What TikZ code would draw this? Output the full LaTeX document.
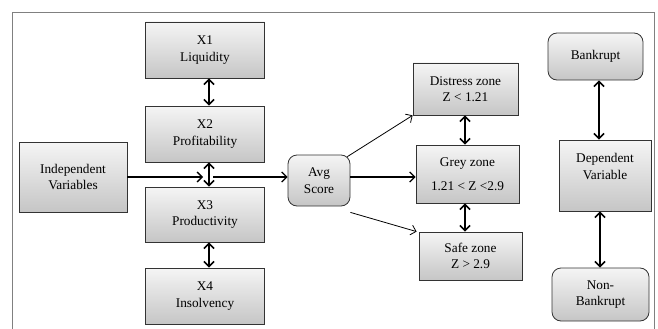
\documentclass[tikz,border=0pt]{standalone}
\usepackage{fontspec}
\setmainfont{Liberation Serif}
\usetikzlibrary{arrows.meta}
\begin{document}
\begin{tikzpicture}[x=1pt,y=-1pt,
  box/.style={draw=black!80, line width=0.8pt, top color=gray!8, bottom color=gray!45,
    align=center, inner sep=0pt, font=\fontsize{13.3}{16.5}\selectfont},
  rbox/.style={box, rounded corners=9pt},
  dbl/.style={line width=1.6pt, {Straight Barb[length=5pt,width=10pt]}-{Straight Barb[length=5pt,width=10pt]}},
  thick arr/.style={line width=1.3pt, -{Straight Barb[length=5pt,width=10pt]}},
  thin arr/.style={line width=0.8pt, -{Straight Barb[length=5pt,width=10pt]}}]
\useasboundingbox (0,0) rectangle (658,329);
\draw[gray, line width=0.9pt] (12,329) -- (12,12) -- (654,12) -- (654,329);
% left column
\node[box, minimum width=119, minimum height=56] (X1) at (205,50) {X1\\Liquidity};
\node[box, minimum width=119, minimum height=56] (X2) at (205,134) {X2\\Profitability};
\node[box, minimum width=119, minimum height=55] (X3) at (205,214.5) {X3\\Productivity};
\node[box, minimum width=119, minimum height=56] (X4) at (205,296) {X4\\Insolvency};
\node[box, minimum width=108, minimum height=70] (IV) at (73,177) {Independent\\Variables};
\node[rbox, minimum width=62, minimum height=51] (AVG) at (319,180.5) {Avg\\Score};
% zones
\node[box, minimum width=105, minimum height=52] (DZ) at (465.5,89) {Distress zone\\Z < 1.21};
\node[box, minimum width=103, minimum height=58] (GZ) at (467.5,174) {Grey zone\\[7pt]1.21 < Z <2.9};
\node[box, minimum width=103, minimum height=48] (SZ) at (470.5,256) {Safe zone\\Z > 2.9};
% right
\node[rbox, minimum width=95, minimum height=47] (BK) at (595.5,56.5) {Bankrupt};
\node[box, minimum width=92, minimum height=71] (DV) at (605,175.5) {Dependent\\Variable\\[-3pt]\strut};
\node[rbox, minimum width=97, minimum height=53] (NB) at (600.5,294.5) {Non-\\Bankrupt};
% double arrows
\draw[dbl] ([xshift=4]X1.south) -- ([xshift=4]X2.north);
\draw[dbl] ([xshift=4]X2.south) -- ([xshift=4]X3.north);
\draw[dbl] ([xshift=4]X3.south) -- ([xshift=4]X4.north);
\draw[dbl] (DZ.south -| 465,0) -- (GZ.north -| 465,0);
\draw[dbl] (GZ.south -| 465,0) -- (SZ.north -| 465,0);
\draw[dbl] (BK.south -| 599,0) -- (DV.north -| 599,0);
\draw[dbl] (DV.south -| 600,0) -- (NB.north -| 600,0);
% main flow
\coordinate (m1) at (203,177);
\coordinate (m2) at (213,177);
\draw[thick arr] (IV.east |- m1) -- (m1);
\draw[thick arr] (m2) -- (AVG.west |- m2);
\draw[thick arr] (AVG.east |- 0,177) -- (GZ.west |- 0,177);
\draw[thin arr] ([shift={(-3,2)}]AVG.north east) -- (DZ.south west);
\draw[thin arr] ([yshift=-6]AVG.south east) -- ([xshift=-2]SZ.north west);
\end{tikzpicture}
\end{document}
